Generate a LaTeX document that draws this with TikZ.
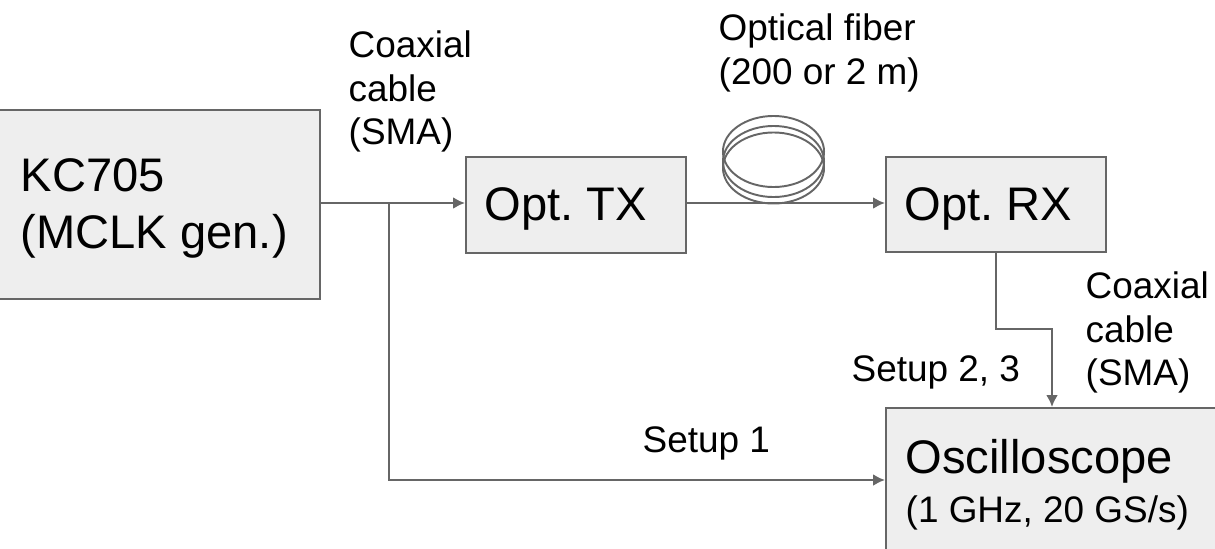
\documentclass[tikz,border=0pt]{standalone}
\usepackage{fontspec}
\setmainfont{Liberation Sans}
\usetikzlibrary{arrows.meta,shapes.geometric}
\definecolor{linegray}{HTML}{666666}
\definecolor{boxgray}{HTML}{EEEEEE}
\begin{document}
\begin{tikzpicture}[x=0.01cm,y=-0.01cm,
    block/.style ={rectangle, draw=linegray, fill=boxgray, line width=0.65pt, inner sep=0pt, anchor=north west},
    bigtext/.style ={inner sep=0pt, anchor=base west, align=left, font=\fontsize{13.4pt}{16.2pt}\selectfont\frenchspacing},
    label/.style ={inner sep=0pt, anchor=base west, align=left, font=\fontsize{10.5pt}{12.4pt}\selectfont\frenchspacing},
    coil/.style ={ellipse, draw=linegray, line width=0.55pt, inner sep=0pt, minimum width=1.01cm, minimum height=0.71cm},
    wire/.style ={draw=linegray, line width=0.65pt},
    arrow/.style ={wire, -{Latex[length=3.4pt,width=3.4pt]}}]
   \useasboundingbox (0,0) rectangle (1215,548);
   \node[block, minimum width=3.21cm, minimum height=1.89cm] (KC)  at (-2,109)  {};
   \node[block, minimum width=2.2cm, minimum height=0.96cm] (TX)  at (465,156)  {};
   \node[block, minimum width=2.2cm, minimum height=0.95cm] (RX)  at (885,156)  {};
   \node[block, minimum width=3.4cm, minimum height=1.45cm] (OSC)  at (885,407)  {};
   \coordinate (branch) at (389,203);
   \coordinate (turn) at (389,480);
   \coordinate (RXdown) at (996,329);
   \coordinate (OSCup) at (1052,329);
   % fiber coil
   \node[coil] (coilA) at (773.5,151.5) {};
   \node[coil] (coilB) at (773.5,161.5) {};
   \node[coil] (coilC) at (773.5,168) {};
   % cables
   \draw[arrow] (KC.east |- branch) -- (branch) -- (TX.west |- branch);
   \draw[arrow] (branch) -- (turn) -- (OSC.west |- turn);
   \draw[arrow] (TX.east |- branch) -- (RX.west |- branch);
   \draw[arrow] (RX.south -| RXdown) -- (RXdown) -- (OSCup) -- (OSC.north -| OSCup);
   % texts
   \node[bigtext, anchor=north west] (KCtext) at (20,158) {KC705\\(MCLK gen.)};
   \node[bigtext] (TXtext) at (484,220) {Opt. TX};
   \node[bigtext] (RXtext) at (904,220) {Opt. RX};
   \node[bigtext] (OSCtext) at (905,473) {Oscilloscope};
   \node[label] (OSCspec) at (905,522) {(1 GHz, 20 GS/s)};
   \node[label, anchor=north west] (coaxA) at (348,30) {Coaxial\\cable\\(SMA)};
   \node[label, anchor=north west] (fiber) at (718,13) {Optical fiber\\(200 or 2 m)};
   \node[label, anchor=north west] (coaxB) at (1085,271) {Coaxial\\cable\\(SMA)};
   \node[label] (setupB) at (851,381) {Setup 2, 3};
   \node[label] (setupA) at (642,452) {Setup 1};
 \end{tikzpicture}
\end{document}
